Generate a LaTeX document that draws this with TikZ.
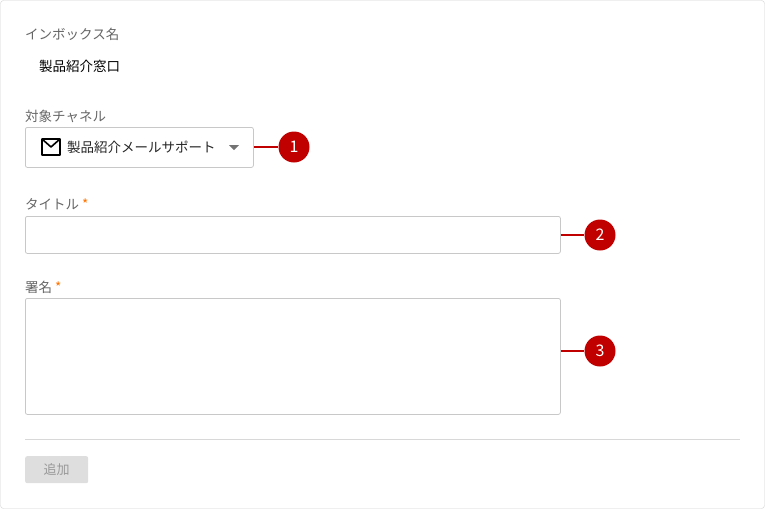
\documentclass[tikz,border=0pt]{standalone}
\usepackage{fontspec}
\newfontfamily\cjk{Noto Sans CJK JP}
\definecolor{lbl}{HTML}{666666}
\definecolor{brd}{HTML}{C8C8C8}
\definecolor{mark}{HTML}{C00000}
\tikzset{
  field/.style={draw=brd, rounded corners=2pt, line width=0.8pt},
  label/.style={anchor=west, font=\cjk\fontsize{13.5}{15}\selectfont, text=lbl, inner sep=0pt},
  badge/.style={circle, fill=mark, text=white, minimum size=31pt, inner sep=0pt, font=\cjk\fontsize{16}{17}\selectfont},
  lead/.style={draw=mark, line width=1.3pt}
}
\begin{document}
\begin{tikzpicture}[x=1pt, y=-1pt]
  \useasboundingbox (0,0) rectangle (765,509);
  % Frame
  \draw[draw=brd!80, rounded corners=3pt] (0.5,0.5) rectangle (764.5,508.5);
  % Inbox name
  \node (inboxlbl) [label] at (25,34) {インボックス名};
  \node (inboxval) [label, text=black] at (39,66) {製品紹介窓口};
  % Channel
  \node (chlbl) [label] at (25,116) {対象チャネル};
  \node (ch) [field, minimum width=228pt, minimum height=40pt, anchor=north west] at (25,127) {};
  \draw[line width=1.6pt, line join=round] (42,139) rectangle (60,155) (42,139) -- (51,147) -- (60,139);
  \node (chval) [label, text=black!85] at (67,147) {製品紹介メールサポート};
  \fill[black!55] (229,145) -- (239,145) -- (234,150) -- cycle;
  % Title
  \node (titlelbl) [label] at (25,204) {タイトル \textcolor{orange!90!red}{*}};
  \node (title) [field, minimum width=535pt, minimum height=37pt, anchor=north west] at (25,216) {};
  % Signature
  \node (siglbl) [label] at (25,287) {署名 \textcolor{orange!90!red}{*}};
  \node (sig) [field, minimum width=535pt, minimum height=116pt, anchor=north west] at (25,298) {};
  % Divider and button
  \draw[brd!70] (25,439) -- (740,439);
  \node (add) [fill=black!13, rounded corners=2pt, minimum width=63pt, minimum height=27pt, anchor=north west, text=black!40, font=\cjk\fontsize{13}{15}\selectfont] at (25,456) {追加};
  % Markers
  \node (m1) [badge] at (294,147) {1};
  \node (m2) [badge] at (600,235) {2};
  \node (m3) [badge] at (600,351) {3};
  \draw[lead] (m1 -| ch.east) -- (m1);
  \draw[lead] (m2 -| title.east) -- (m2);
  \draw[lead] (m3 -| sig.east) -- (m3);
\end{tikzpicture}
\end{document}
